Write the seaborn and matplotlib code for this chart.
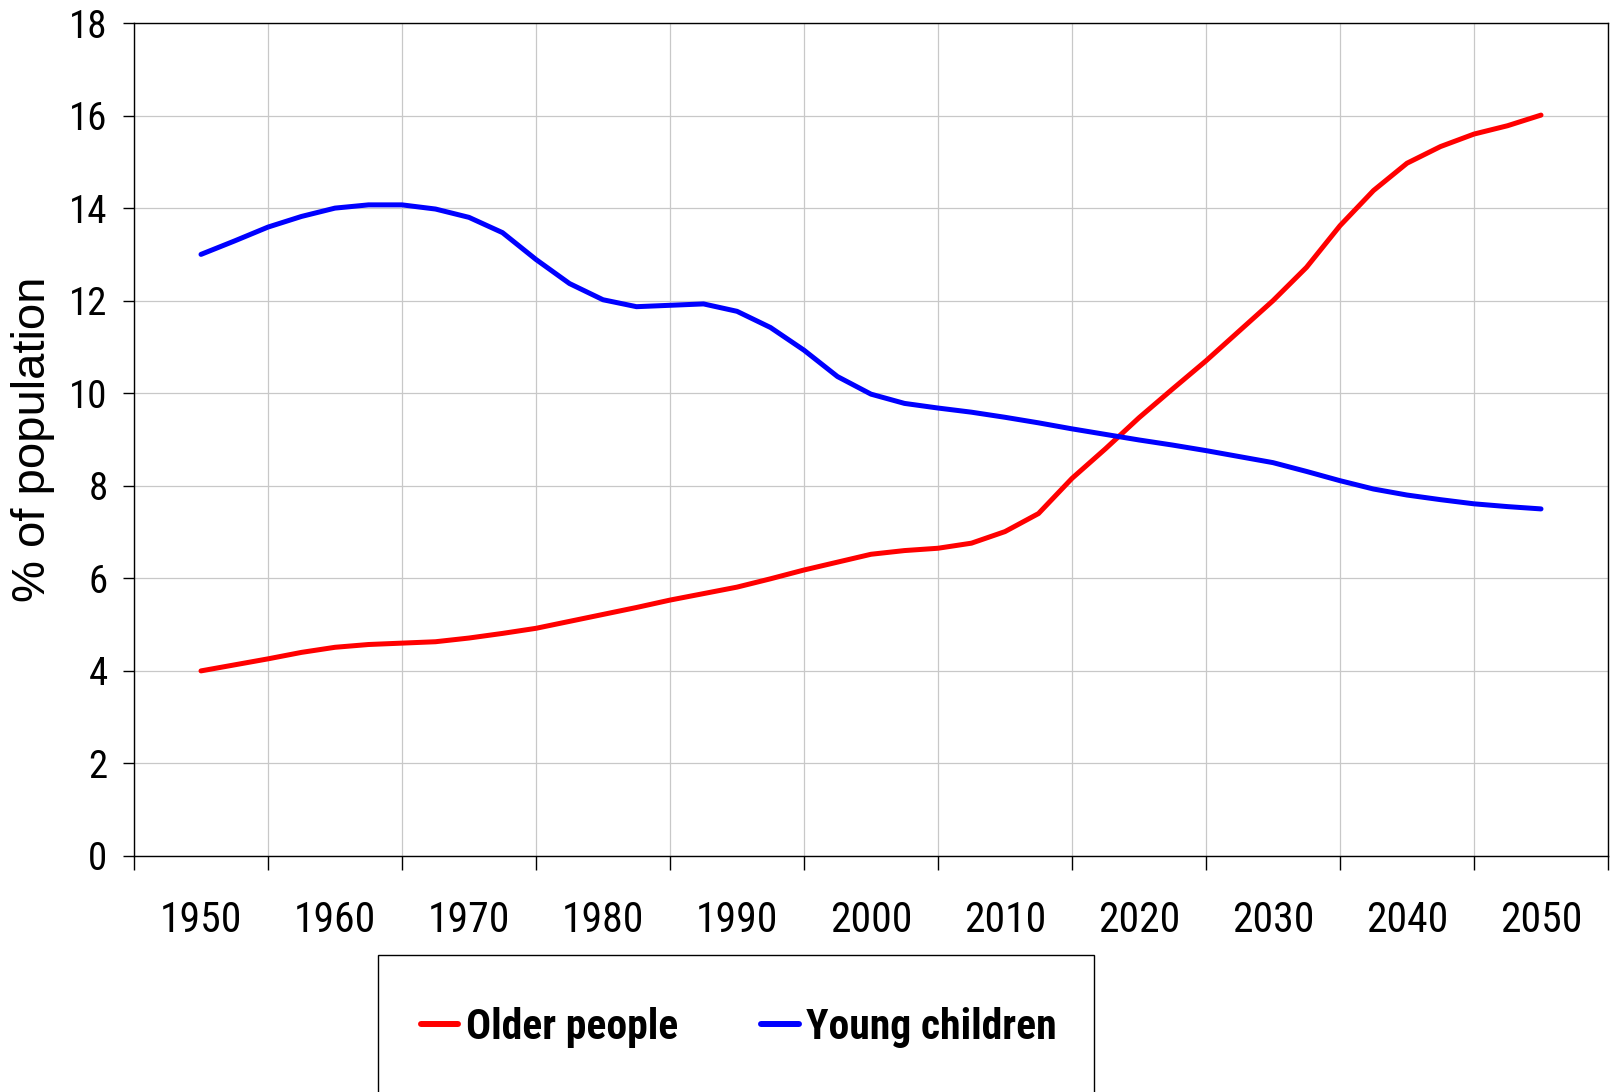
import matplotlib
matplotlib.use("Agg")
import matplotlib.pyplot as plt
from matplotlib import font_manager as fm
from matplotlib.patches import Rectangle
import seaborn as sns
import pandas as pd

years = [1950, 1952.5, 1955, 1957.5, 1960, 1962.5, 1965, 1967.5, 1970, 1972.5,
         1975, 1977.5, 1980, 1982.5, 1985, 1987.5, 1990, 1992.5, 1995, 1997.5,
         2000, 2002.5, 2005, 2007.5, 2010, 2012.5, 2015, 2017.5, 2020, 2022.5,
         2025, 2027.5, 2030, 2032.5, 2035, 2037.5, 2040, 2042.5, 2045, 2047.5, 2050]

older_people = [4.00, 4.13, 4.26, 4.40, 4.51, 4.57, 4.60, 4.63, 4.71, 4.81,
                4.92, 5.07, 5.22, 5.37, 5.53, 5.67, 5.81, 5.99, 6.18, 6.35,
                6.52, 6.60, 6.65, 6.76, 7.01, 7.40, 8.16, 8.80, 9.47, 10.09,
                10.70, 11.35, 12.00, 12.72, 13.62, 14.38, 14.97, 15.33, 15.60, 15.78, 16.01]

young_children = [13.00, 13.29, 13.59, 13.82, 14.00, 14.07, 14.07, 13.98, 13.80, 13.47,
                  12.89, 12.37, 12.02, 11.87, 11.90, 11.93, 11.77, 11.42, 10.93, 10.36,
                  9.98, 9.78, 9.68, 9.59, 9.48, 9.36, 9.23, 9.11, 8.99, 8.88,
                  8.76, 8.63, 8.50, 8.31, 8.11, 7.93, 7.80, 7.70, 7.61, 7.55, 7.50]

series_names = ["Older people", "Young children"]
series_colors = {"Older people": "#ff0000", "Young children": "#0000ff"}

y_ticks = [0, 2, 4, 6, 8, 10, 12, 14, 16, 18]
x_grid_ticks = [1945, 1955, 1965, 1975, 1985, 1995, 2005, 2015, 2025, 2035, 2045, 2055]
x_label_ticks = [1950, 1960, 1970, 1980, 1990, 2000, 2010, 2020, 2030, 2040, 2050]
y_label = "% of population"

df = pd.DataFrame({
    "year": years * 2,
    "value": older_people + young_children,
    "series": [series_names[0]] * len(years) + [series_names[1]] * len(years),
})

# pick an installed narrow sans family (Arial Narrow look-alike)
entries = {}
for f in fm.fontManager.ttflist:
    if f.style != "normal":
        continue
    entries.setdefault(f.name, set()).add(int(f.weight) if str(f.weight).isdigit() else 400)

candidates = ["Liberation Sans Narrow", "Arial Narrow", "Nimbus Sans Narrow",
              "Roboto Condensed", "Archivo Narrow", "IBM Plex Sans Condensed",
              "Open Sans Condensed", "PT Sans Narrow"]


def pick(need_bold):
    for c in candidates:
        w = entries.get(c)
        if not w:
            continue
        if need_bold and not any(x >= 700 for x in w):
            continue
        if not need_bold and not any(x <= 500 for x in w):
            continue
        return c
    return "Liberation Sans"


narrow_reg = pick(False)
narrow_bold = pick(True)

sns.set_theme(style="white")
regular = ["Liberation Sans", "DejaVu Sans"]
plt.rcParams["font.family"] = [narrow_reg, "Liberation Sans", "DejaVu Sans"]
plt.rcParams["text.color"] = "black"

fig = plt.figure(figsize=(16.14, 10.92), dpi=100)
ax = fig.add_axes([134 / 1614, 1 - 856 / 1092, (1608 - 134) / 1614, (856 - 23) / 1092])

sns.lineplot(data=df, x="year", y="value", hue="series", hue_order=series_names,
             palette=series_colors, linewidth=3.6, ax=ax, legend=False, sort=False)

ax.set_xlim(1945, 2055)
ax.set_ylim(0, 18)

ax.set_xticks(x_grid_ticks)
ax.set_xticklabels([""] * len(x_grid_ticks))
ax.set_xticks(x_label_ticks, minor=True)
ax.set_xticklabels([str(v) for v in x_label_ticks], minor=True)
ax.tick_params(axis="x", which="major", direction="out", length=10, width=1.0,
               color="black", bottom=True)
ax.tick_params(axis="x", which="minor", length=0, pad=32, labelsize=30,
               labelcolor="black", bottom=True)

ax.set_yticks(y_ticks)
ax.set_yticklabels([str(v) for v in y_ticks])
ax.tick_params(axis="y", which="major", direction="out", length=8, width=1.0,
               color="black", pad=11, labelsize=28, labelcolor="black", left=True)

ax.grid(True, which="major", axis="both", color="#c8c8c8", linewidth=0.9)
ax.set_axisbelow(True)

for side in ["left", "right", "top", "bottom"]:
    ax.spines[side].set_visible(True)
    ax.spines[side].set_color("black")
    ax.spines[side].set_linewidth(1.0)

ax.set_xlabel("")
ax.set_ylabel(y_label, fontsize=34, family=regular, color="black", labelpad=10)

# legend box (extends past the bottom edge of the figure, as in the reference)
fig.add_artist(Rectangle((378 / 1614, -0.02), (1094 - 378) / 1614, 1 - 955 / 1092 + 0.02,
                         transform=fig.transFigure, facecolor="white", edgecolor="black",
                         linewidth=1.0, clip_on=False, zorder=1))

handles = ax.get_lines()[:2]
leg = fig.legend(handles=handles, labels=series_names, ncol=2,
                 loc="center", bbox_to_anchor=(739 / 1614, 1 - 1027 / 1092),
                 bbox_transform=fig.transFigure, borderaxespad=0, borderpad=0,
                 handlelength=0.9, handletextpad=0.18, columnspacing=2.0,
                 frameon=False,
                 prop={"family": [narrow_bold, "Liberation Sans"], "weight": "bold", "size": 30})
leg.set_zorder(2)
for t in leg.get_texts():
    t.set_color("black")
for lh in leg.get_lines():
    lh.set_linewidth(4.3)

fig.savefig("out.png", dpi=100)
